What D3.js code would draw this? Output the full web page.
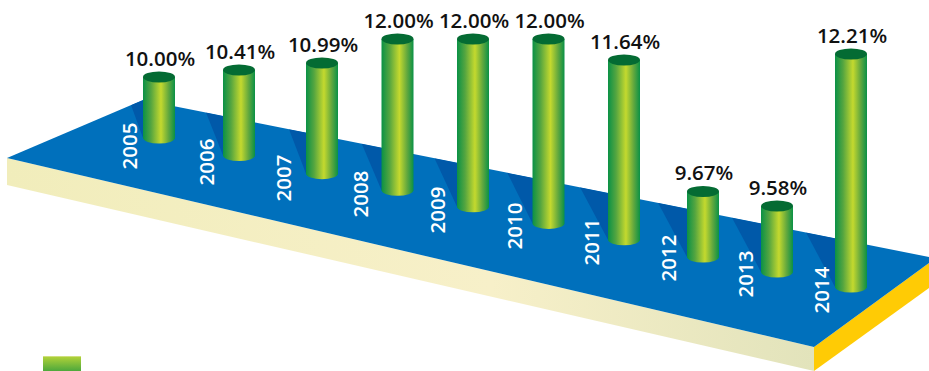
<!DOCTYPE html>
<html>
<head>
<meta charset="utf-8">
<script src="https://cdnjs.cloudflare.com/ajax/libs/d3/7.8.5/d3.min.js"></script>
<style>
  html, body { margin: 0; padding: 0; background: #fff; }
  svg { display: block; }
  text { font-family: "Open Sans", sans-serif; }
</style>
</head>
<body>
<svg id="chart" width="929" height="371"></svg>
<script>
// Annual rate, one column per year
const years = [2005, 2006, 2007, 2008, 2009, 2010, 2011, 2012, 2013, 2014];
const rates = [10.00, 10.41, 10.99, 12.00, 12.00, 12.00, 11.64, 9.67, 9.58, 12.21];

const svg = d3.select("#chart");
const defs = svg.append("defs");

// Column tops follow a hand-tuned decorative scale, not a proportional one:
// the graphic exaggerates differences, and the tilted slab lowers later bases.
const topY = d3.scaleLinear()
  .domain([9.58, 9.67, 10, 10.41, 10.99, 11.64, 12, 12.21])
  .range([206, 191.5, 77, 70, 63, 60, 39, 54]);

// Columns sit along the slab, spaced slightly unevenly
const columnX = d3.scaleLinear()
  .domain([2005, 2006, 2007, 2011, 2012, 2014])
  .range([159, 239, 322, 624, 703, 851]);
const baseY = d3.scaleLinear().domain([159, 549, 703, 851]).range([138, 223.5, 257, 287]);

// Year captions run along the front of each column
const captionX = d3.scalePoint().domain(years).range([130, 822]);
const captionY = d3.scalePoint().domain(years).range([146, 290]);

// Shadow fans out further towards the far end of the slab
const shadowReach = d3.scaleLinear().domain([2005, 2006, 2007, 2011, 2012]).range([28, 33, 33, 44, 45]).clamp(true);

const line = d3.line();
const rx = 16, ry = 5.5;

// Slab outlines
const slabTop = [[7, 158], [143, 100], [929, 257], [929, 263], [814, 347]];
const slabFront = [[7, 158], [7, 185], [814, 371], [814, 347]];
const slabSide = [[814, 347], [929, 263], [929, 288], [814, 371]];
const backEdge = d3.scaleLinear().domain([143, 929]).range([100, 257]);
const leftEdge = d3.scaleLinear().domain([7, 143]).range([158, 100]);

function gradient(id, x2, y2, stops) {
  const g = defs.append("linearGradient").attr("id", id)
    .attr("x1", 0).attr("y1", 0).attr("x2", x2).attr("y2", y2);
  g.selectAll("stop").data(stops).join("stop")
    .attr("offset", d => d[0]).attr("stop-color", d => d[1]);
}
gradient("cyl", 1, 0, [[0, "#0a9146"], [0.25, "#54a540"], [0.56, "#c4d92e"], [0.8, "#62a83e"], [1, "#0a9146"]]);
gradient("front", 1, 0, [[0, "#f1edbb"], [0.6, "#f7f0c9"], [1, "#e2e3bb"]]);
gradient("swatch", 0, 1, [[0, "#e6ecae"], [0.08, "#add039"], [1, "#4da83c"]]);

defs.append("clipPath").attr("id", "slabClip")
  .append("path").attr("d", line(slabTop) + "Z");

svg.append("path").attr("d", line(slabFront) + "Z").attr("fill", "url(#front)");
svg.append("path").attr("d", line(slabSide) + "Z").attr("fill", "#ffcb05");
svg.append("path").attr("d", line(slabTop) + "Z").attr("fill", "#0070bc");

const rows = years.map((year, i) => ({ year, rate: rates[i] }));

// Shadows cast towards the back of the slab
svg.append("g").attr("clip-path", "url(#slabClip)")
  .selectAll("path").data(rows).join("path")
  .attr("fill", "#0059a9")
  .attr("d", d => {
    const cx = columnX(d.year);
    const far = cx - shadowReach(d.year);
    const edgeAt = x => x < 143 ? leftEdge(x) : backEdge(x);
    const corner = far < 143 && cx > 143 ? 143 : far;
    return line([[far, edgeAt(far)], [corner, edgeAt(corner)],
      [cx - rx, edgeAt(cx - rx)], [cx, baseY(cx)], [cx - rx, baseY(cx)]]) + "Z";
  });

// Cylindrical columns
const columns = svg.append("g").selectAll("g").data(rows).join("g");
columns.append("path")
  .attr("fill", "url(#cyl)")
  .attr("d", d => {
    const cx = columnX(d.year), t = topY(d.rate), b = baseY(cx);
    return `M${cx - rx},${t}V${b}A${rx},${ry} 0 0 0 ${cx + rx},${b}V${t}Z`;
  });
columns.append("ellipse")
  .attr("cx", d => columnX(d.year))
  .attr("cy", d => topY(d.rate))
  .attr("rx", rx).attr("ry", ry)
  .attr("fill", "#046b33");

// Value labels above the columns
columns.append("text")
  .attr("x", d => columnX(d.year) + 1)
  .attr("y", d => topY(d.rate) - 11.5)
  .attr("text-anchor", "middle")
  .attr("font-size", 20.5)
  .attr("font-weight", 600)
  .attr("fill", "#111")
  .text(d => d.rate.toFixed(2) + "%");

// Year captions, turned to read upwards
svg.append("g").selectAll("text").data(years).join("text")
  .attr("transform", d => `translate(${captionX(d)},${captionY(d)}) rotate(-90)`)
  .attr("text-anchor", "middle")
  .attr("dy", "0.36em")
  .attr("font-size", 20.5)
  .attr("font-weight", 600)
  .attr("fill", "#fff")
  .text(d => d);

// Legend swatch
svg.append("rect")
  .attr("x", 43).attr("y", 356).attr("width", 38).attr("height", 15)
  .attr("fill", "url(#swatch)");
</script>
</body>
</html>
